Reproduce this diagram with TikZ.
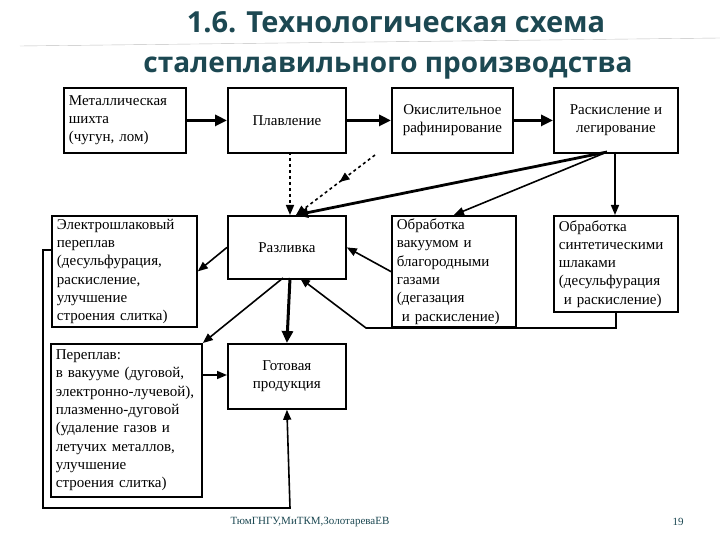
\documentclass[tikz,border=0pt]{standalone}
\usepackage{fontspec}
\setmainfont{Liberation Serif}
\newfontfamily\titlefont{Open Sans}
\usetikzlibrary{arrows.meta,decorations.markings}
\definecolor{ttl}{RGB}{28,72,82}
\begin{document}
\begin{tikzpicture}[x=1pt,y=-1pt,
  box/.style={draw,line width=1.8pt,inner sep=3pt,font=\fontsize{15}{18.3}\selectfont,align=left},
  lbox/.style={box,text width=#1,inner xsep=5pt},
  thk/.style={line width=3pt,-{Triangle[length=12pt,width=11pt]}},
  thn/.style={line width=1.6pt,-{Triangle[length=10pt,width=8pt]}},
  dsh/.style={line width=1.6pt,dashed,-{Triangle[length=10pt,width=8pt]}}]
\useasboundingbox (0,0) rectangle (720,540);
\fill[white] (0,0) rectangle (720,540);
\node[font=\titlefont\bfseries\fontsize{29}{32}\selectfont,color=ttl] (t1) at (396,22) {1.6. Технологическая схема};
\node[font=\titlefont\bfseries\fontsize{28}{32}\selectfont,color=ttl] (t2) at (388,68) {сталеплавильного производства};
\draw[gray!50] (20,46) -- (720,38);
% boxes
\node[lbox=112pt,minimum height=65pt,anchor=north west] (A) at (63,87) {Металлическая\\шихта\\(чугун, лом)};
\node[box,minimum width=118pt,minimum height=65pt,anchor=north west,align=center] (B) at (227,87) {Плавление};
\node[box,minimum width=121pt,minimum height=65pt,anchor=north west,align=center] (C) at (391,87) {Окислительное\\рафинирование};
\node[box,minimum width=124pt,minimum height=65pt,anchor=north west,align=center] (D) at (553,87) {Раскисление и\\легирование};
\node[lbox=135pt,minimum height=110pt,anchor=north west] (E) at (51,215) {Электрошлаковый\\переплав\\(десульфурация,\\раскисление,\\улучшение\\строения слитка)};
\node[box,minimum width=118pt,minimum height=63pt,anchor=north west,align=center] (F) at (227,215) {Разливка};
\node[lbox=114pt,minimum height=96pt,anchor=north west] (G) at (391,215) {Обработка\\вакуумом и\\благородными\\газами (дегазация\\\ и раскисление)};
\node[lbox=114pt,minimum height=96pt,anchor=north west] (H) at (553,215) {Обработка\\синтетическими\\шлаками\\(десульфурация\\\ и раскисление)};
\node[lbox=141pt,minimum height=153pt,anchor=north west] (I) at (50,343) {Переплав:\\в вакууме (дуговой,\\электронно-лучевой),\\плазменно-дуговой\\(удаление газов и\\летучих металлов,\\улучшение\\строения слитка)};
\node[box,minimum width=118pt,minimum height=65pt,anchor=north west,align=center] (J) at (227,343) {Готовая\\продукция};
% connectors
\draw[thk] (A) -- (B);
\draw[thk] (B) -- (C);
\draw[thk] (C) -- (D);
\coordinate (fan) at (607,152);
\coordinate (ftop) at (296,215);
\coordinate (cds) at (375,155);
\draw[dsh] (290,152) -- (290,215);
\draw[line width=1.6pt,dashed,postaction={decorate},decoration={markings,mark=at position 0.45 with {\arrow{Triangle[length=10pt,width=8pt]}}},-{Triangle[length=10pt,width=8pt]}] (cds) -- (ftop);
\draw[line width=2.8pt,-{Triangle[length=12pt,width=10pt]}] (fan) -- (ftop);
\draw[thn] (fan) -- (G.north);
\draw[thn] (615,152) -- (615,215);
\draw[thn] (G.west) -- (F.east);
\draw[thn] (F.west) -- (E.east);
\draw[thn] (616,311) -- (616,328) -- (366,328) -- (300,278);
\draw[thk] (290,278) -- (J.north);
\draw[thn] (283,278) -- (I.north east);
\draw[thn] (I.east |- 0,375) -- (J.west |- 0,375);
\draw[thn] (E.west |- 0,250) -- (43,250) -- (43,508) -- (290,508) -- (J.south);
\node[font=\fontsize{11}{12}\selectfont,color=ttl] (f1) at (310,522) {ТюмГНГУ,МиТКМ,ЗолотареваЕВ};
\node[font=\fontsize{11}{12}\selectfont,color=ttl] (f2) at (678,522) {19};
\end{tikzpicture}
\end{document}
